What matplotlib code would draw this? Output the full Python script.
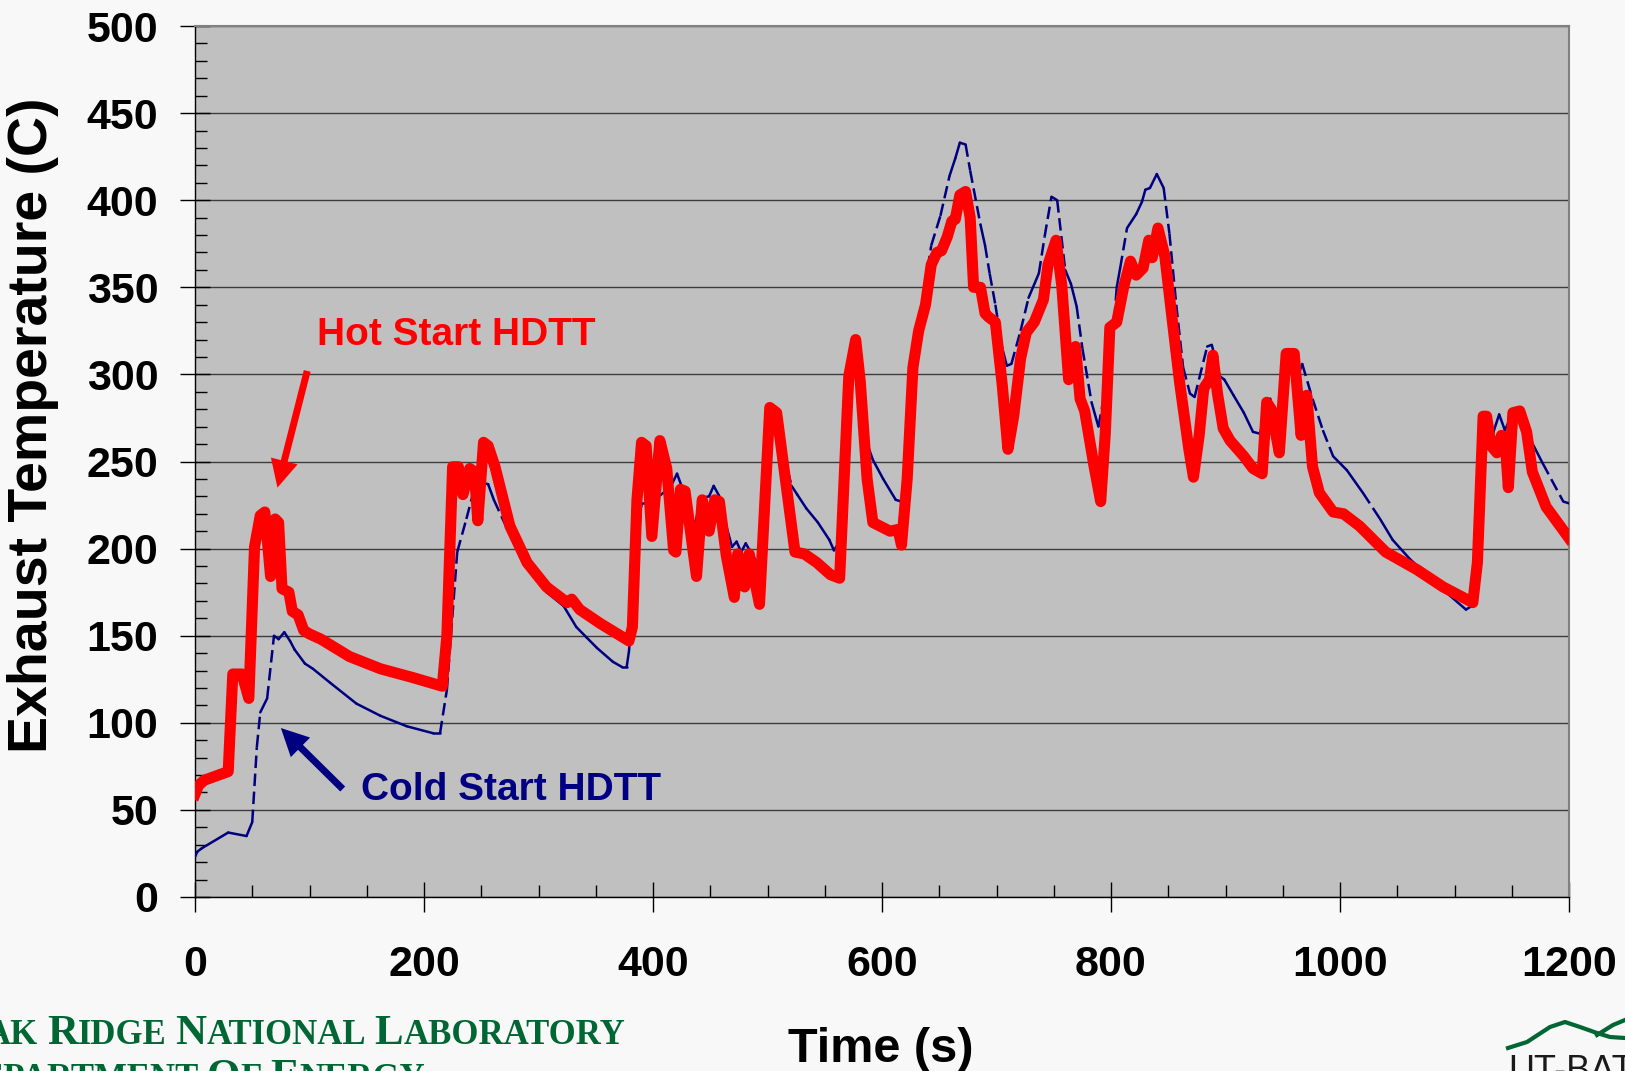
import numpy as np
import matplotlib.pyplot as plt
from matplotlib.collections import LineCollection
from matplotlib.lines import Line2D
from matplotlib.ticker import MultipleLocator

plt.rcParams['font.family'] = ['Liberation Sans', 'DejaVu Sans']
plt.rcParams['font.weight'] = 'bold'
plt.rcParams['lines.scale_dashes'] = False

# ─── DATA ────────────────────────────────────────────────────────────────────
hot_t = [0, 3, 8, 29, 33, 41, 47, 52, 57, 61, 66, 70, 73, 76, 82, 85, 90, 95, 100,
         110, 135, 162, 190, 216, 220, 225, 230, 234, 240, 244, 247, 252, 256, 262,
         275, 290, 307, 325, 329, 336, 354, 379, 382, 386, 390, 394, 399, 406, 412,
         418, 420, 424, 428, 438, 443, 449, 454, 458, 464, 471, 474, 477, 480, 484,
         493, 502, 508, 524, 532, 543, 555, 563, 571, 577, 581, 587, 592, 598, 607,
         614, 617, 622, 627, 632, 638, 643, 648, 652, 657, 661, 664, 668, 673, 677,
         680, 686, 690, 693, 699, 705, 710, 715, 721, 726, 733, 741, 745, 752, 757,
         763, 769, 773, 777, 785, 791, 795, 799, 805, 811, 817, 822, 828, 833, 836,
         841, 847, 853, 860, 868, 872, 877, 881, 886, 889, 893, 898, 904, 916, 924,
         932, 936, 940, 947, 953, 960, 966, 971, 976, 982, 994, 1003, 1017, 1040,
         1067, 1090, 1116, 1120, 1125, 1128, 1132, 1137, 1141, 1144, 1147, 1151,
         1157, 1163, 1168, 1180, 1200]
hot_temp = [59, 64, 67, 72, 128, 128, 114, 201, 219, 221, 184, 217, 215, 177, 175,
            164, 162, 153, 151, 148, 138, 131, 126, 121, 150, 247, 247, 231, 246,
            244, 216, 261, 259, 247, 213, 192, 178, 169, 171, 165, 157, 147, 155,
            228, 261, 259, 207, 262, 246, 199, 198, 234, 233, 184, 228, 210, 228,
            227, 196, 172, 197, 185, 178, 197, 168, 281, 278, 198, 197, 192, 185,
            183, 299, 320, 296, 240, 215, 213, 210, 211, 202, 240, 304, 325, 340,
            363, 370, 371, 379, 388, 389, 403, 405, 390, 350, 350, 335, 333, 330,
            294, 257, 276, 309, 324, 330, 343, 363, 377, 351, 297, 316, 286, 279,
            248, 227, 266, 327, 330, 350, 365, 357, 361, 377, 367, 384, 368, 334,
            295, 257, 241, 265, 292, 297, 311, 289, 269, 262, 253, 246, 243, 284,
            280, 255, 312, 312, 265, 288, 247, 232, 221, 220, 213, 198, 188, 178,
            169, 192, 276, 276, 259, 255, 265, 264, 235, 278, 279, 267, 244, 224, 206]

cold_t = [0, 2, 6, 29, 45, 50, 54, 57, 63, 69, 73, 78, 83, 87, 96, 103, 118, 141,
          162, 185, 208, 214, 220, 229, 237, 243, 249, 256, 261, 275, 290, 307, 322,
          333, 342, 351, 365, 373, 377, 379, 390, 397, 405, 415, 421, 426, 432, 437,
          442, 449, 453, 458, 464, 469, 473, 477, 481, 487, 491, 495, 503, 511, 514,
          521, 526, 534, 544, 554, 558, 562, 577, 585, 592, 601, 612, 617, 630, 643,
          651, 659, 664, 668, 673, 677, 686, 690, 694, 699, 705, 709, 713, 721, 728,
          737, 742, 748, 753, 760, 765, 770, 775, 783, 789, 795, 803, 805, 808, 814,
          822, 827, 830, 834, 840, 846, 851, 857, 863, 869, 873, 884, 888, 895, 899,
          907, 916, 924, 930, 936, 939, 945, 952, 956, 962, 967, 976, 985, 994, 1006,
          1020, 1035, 1046, 1061, 1081, 1096, 1110, 1115, 1124, 1134, 1139, 1144,
          1151, 1166, 1177, 1195, 1200]
cold_temp = [23, 26, 28, 37, 35, 43, 86, 106, 114, 150, 148, 152, 147, 142, 134,
             131, 123, 111, 104, 98, 94, 94, 119, 198, 217, 232, 238, 237, 228, 208,
             189, 175, 167, 155, 149, 143, 135, 132, 132, 141, 226, 226, 230, 235,
             243, 234, 217, 215, 229, 230, 236, 230, 213, 201, 204, 198, 203, 196,
             192, 200, 278, 274, 255, 236, 231, 223, 215, 205, 199, 203, 318, 264,
             251, 240, 228, 227, 320, 374, 391, 414, 424, 433, 432, 417, 386, 374,
             358, 340, 315, 305, 306, 325, 344, 358, 379, 402, 400, 360, 352, 339,
             315, 284, 270, 291, 332, 350, 361, 384, 392, 399, 406, 407, 415, 407,
             381, 340, 304, 289, 287, 316, 317, 299, 297, 288, 278, 267, 266, 279,
             286, 272, 305, 309, 297, 306, 286, 268, 253, 245, 232, 217, 205, 194,
             182, 173, 165, 167, 255, 267, 277, 268, 278, 263, 249, 227, 226]

X_MAX, Y_MAX = 1200, 500

# logo outline (figure pixels, from the top left)
LOGO_X = [1508, 1527, 1550, 1565, 1580, 1597, 1610, 1625]
LOGO_Y = [1048, 1042, 1027, 1022, 1027, 1033, 1037, 1038]
LOGO2_X = [1597, 1613, 1625]
LOGO2_Y = [1035, 1025, 1020]

W, H = 1625, 1071
GREEN = '#006633'

# ─── PLOT ────────────────────────────────────────────────────────────────────
fig = plt.figure(figsize=(W / 100, H / 100), dpi=100, facecolor='#f8f8f8')
ax = fig.add_axes([195 / W, 174 / H, 1374 / W, 871 / H])
ax.set_facecolor('#c0c0c0')
ax.set_xlim(0, X_MAX)
ax.set_ylim(0, Y_MAX)

# cold start: thin navy, steep segments come out dashed
pts = np.column_stack([cold_t, cold_temp])
segs = np.stack([pts[:-1], pts[1:]], axis=1)
steep = np.abs(np.diff(cold_temp)) > 14
ax.add_collection(LineCollection(segs[~steep], colors='#000080', linewidths=1.8,
                                 capstyle='round', zorder=3))
ax.add_collection(LineCollection(segs[steep], colors='#000080', linewidths=1.8,
                                 linestyles=[(0, (9, 4))], zorder=3))

# hot start: thick red
ax.plot(hot_t, hot_temp, color='#ff0000', lw=8, solid_joinstyle='round', zorder=4)

# annotations
arrow = 'simple,head_length=0.55,head_width=0.55,tail_width=0.14'
ax.text(228, 317, 'Hot Start HDTT', color='#ff0000', fontsize=28,
        ha='center', va='baseline', zorder=5)
ax.annotate('', xy=(72, 235), xytext=(98, 302),
            arrowprops=dict(arrowstyle=arrow, mutation_scale=36, color='#ff0000',
                            lw=0, shrinkA=0, shrinkB=0), zorder=5)
ax.text(276, 55.7, 'Cold Start HDTT', color='#000080', fontsize=28,
        ha='center', va='baseline', zorder=5)
ax.annotate('', xy=(75, 97), xytext=(129, 62),
            arrowprops=dict(arrowstyle=arrow, mutation_scale=36, color='#000080',
                            lw=0, shrinkA=0, shrinkB=0), zorder=5)

# axes styling
ax.xaxis.set_major_locator(MultipleLocator(200))
ax.xaxis.set_minor_locator(MultipleLocator(50))
ax.yaxis.set_major_locator(MultipleLocator(50))
ax.yaxis.set_minor_locator(MultipleLocator(10))
ax.tick_params(which='major', direction='inout', length=21, width=1.0,
               labelsize=31, colors='black')
ax.tick_params(axis='x', which='major', pad=24)
ax.tick_params(axis='y', which='major', pad=16)
ax.tick_params(which='minor', direction='in', length=8.5, width=1.0)
ax.yaxis.grid(True, which='major', color='#3c3c3c', lw=1.0)
ax.set_axisbelow(True)
for s in ('left', 'bottom'):
    ax.spines[s].set_color('black')
    ax.spines[s].set_linewidth(1.0)
for s in ('right', 'top'):
    ax.spines[s].set_color('#808080')
    ax.spines[s].set_linewidth(1.5)

fig.text(33 / W, 1 - 425 / H, 'Exhaust Temperature (C)', rotation=90,
         fontsize=40, ha='center', va='center')
fig.text(881 / W, 1 - 1062 / H, 'Time (s)', fontsize=35, ha='center', va='baseline')

# ─── ORNL footer (small caps built piece by piece) ───────────────────────────
renderer = fig.canvas.get_renderer()


def small_caps(words, right_px, base_px, big=31, small=25):
    texts, x = [], 0.0
    gap = small * 0.25 * 100 / 72
    for word in words:
        parts = [(word, big)] if word == 'U.S.' else [(word[0], big), (word[1:], small)]
        for part, size in parts:
            if not part:
                continue
            t = fig.text(x / W, 1 - base_px / H, part, fontsize=size, color=GREEN,
                         family='Liberation Serif', weight='bold', va='baseline')
            texts.append(t)
            x = t.get_window_extent(renderer).x1
        x += gap
    shift = right_px - (x - gap)
    for t in texts:
        t.set_x(t.get_position()[0] + shift / W)


small_caps(['OAK', 'RIDGE', 'NATIONAL', 'LABORATORY'], 625, 1044)
small_caps(['U.S.', 'DEPARTMENT', 'OF', 'ENERGY'], 425, 1088)

# UT-Battelle logo, cut off at the corner
fig.add_artist(Line2D(np.array(LOGO_X) / W, 1 - np.array(LOGO_Y) / H, color=GREEN,
                      lw=3, transform=fig.transFigure))
fig.add_artist(Line2D(np.array(LOGO2_X) / W, 1 - np.array(LOGO2_Y) / H, color=GREEN,
                      lw=3, transform=fig.transFigure))
fig.text(1508 / W, 1 - 1081 / H, 'UT-BATTELLE', fontsize=26, weight='normal',
         color='#1a1a1a', va='baseline')

fig.savefig('out.png', dpi=100, facecolor=fig.get_facecolor())
